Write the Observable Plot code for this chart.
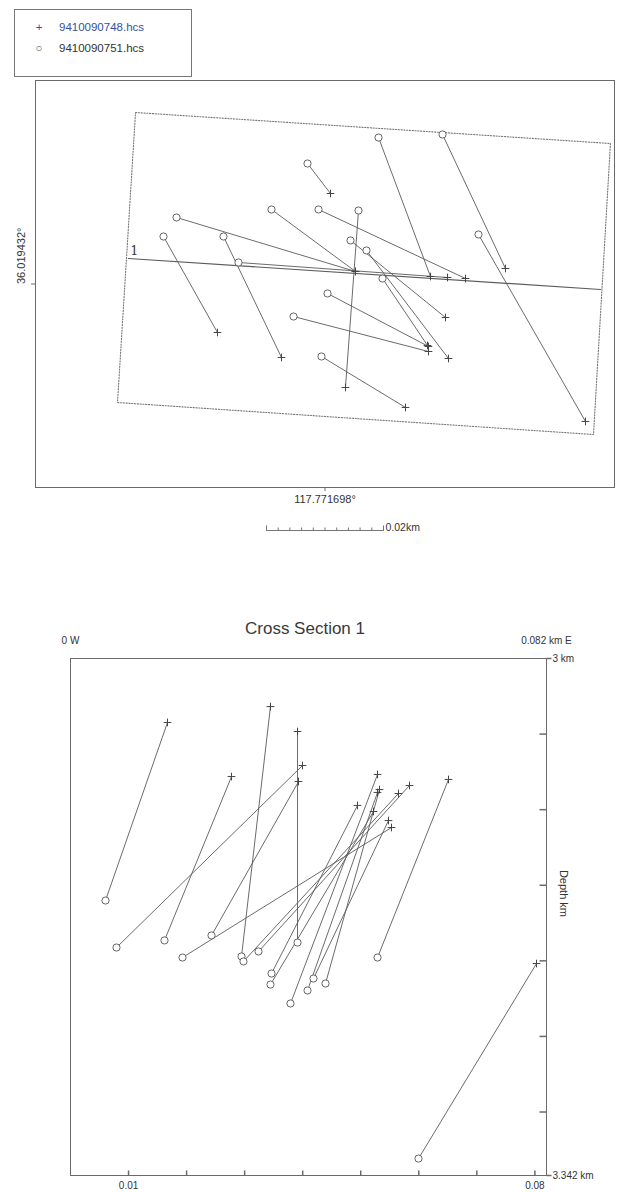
<!DOCTYPE html>
<html>
<head>
<meta charset="utf-8">
<script src="https://cdn.jsdelivr.net/npm/d3@7"></script>
<script src="https://cdn.jsdelivr.net/npm/@observablehq/plot@0.6"></script>
<style>
  body { margin: 0; background: #fff; }
  #wrap { position: relative; width: 618px; height: 1192px; overflow: hidden;
          font-family: "Liberation Sans", Arial, Helvetica, sans-serif; }
  #wrap svg { position: absolute; left: 0; overflow: visible; }
  #legend { position: absolute; left: 14px; top: 9px; width: 176px; height: 66px;
            border: 1px solid #777; background: #fff; z-index: 3; font-size: 11.5px; }
  .lg { position: absolute; left: 0; white-space: nowrap; }
  .lg .m { position: absolute; left: 18px; width: 12px; text-align: center; }
  .lg .t { position: absolute; left: 44px; }
  #title { position: absolute; left: 0; top: 619px; width: 610px; text-align: center;
           font-size: 17px; color: #3a3a3a; }
</style>
</head>
<body>
<div id="wrap">
  <div id="legend"></div>
  <div id="title"></div>
</div>
<script>
// ---------------- data ----------------
const seriesNames = ["9410090748.hcs", "9410090751.hcs"];   // + , o
const mapLonLabel = "117.771698°";
const mapLatLabel = "36.019432°";
const scaleLabel = "0.02km";
const sectionTitle = "Cross Section 1";
const profileName = "1";

// Map view: metres east / north of the map centre
const mapE751 = [-2.99, 9.15, 20.09, -25.38, -9.15, -1.11, 5.73, -27.61, -17.35, 26.24, 4.36, 7.09, -14.79, 9.83, 0.43, -5.38, -0.60];
const mapN751 = [20.60, 25.04, 25.56, 11.37, 12.74, 12.74, 12.56, 8.12, 8.12, 8.46, 7.44, 5.73, 3.68, 0.94, -1.62, -5.56, -12.39];
const mapE748 = [0.94, 18.03, 30.85, 5.21, 5.21, 24.02, 3.50, -18.38, -7.44, 44.53, 20.60, 21.11, 20.94, 17.52, 17.69, 17.69, 13.76];
const mapN748 = [15.47, 1.28, 2.65, 2.14, 2.14, 0.94, -17.69, -8.29, -12.56, -23.50, -5.73, -12.74, 1.11, -10.51, -10.68, -11.54, -21.11];

// Section box (dotted) corners and profile line, metres
const boxE = [-32.39, 48.80, 45.90, -35.47, -32.39];
const boxN = [29.32, 24.02, -25.73, -20.26, 29.32];
const profileE = [-33.59, 47.09];
const profileN = [4.36, -0.94];

// Cross section: distance along profile (km) and depth (km)
const secDist751 = [0.00603, 0.00792, 0.01619, 0.02429, 0.02946, 0.01929, 0.03911, 0.03239, 0.02980, 0.05289, 0.05995, 0.03463, 0.03445, 0.03790, 0.04083, 0.04186, 0.04393];
const secDepth751 = [3.1601, 3.1912, 3.1865, 3.1832, 3.1971, 3.1978, 3.1879, 3.1938, 3.2004, 3.1978, 3.3308, 3.2084, 3.2157, 3.2282, 3.2196, 3.2117, 3.2150];
const secDist748 = [0.01671, 0.03997, 0.02774, 0.03928, 0.03445, 0.05530, 0.03911, 0.05840, 0.05650, 0.06512, 0.08028, 0.04944, 0.05220, 0.05289, 0.05289, 0.05478, 0.05323];
const secDepth748 = [3.0423, 3.0708, 3.0781, 3.0814, 3.0318, 3.1118, 3.0483, 3.0840, 3.0893, 3.0800, 3.2018, 3.0972, 3.1012, 3.0767, 3.0886, 3.1072, 3.0867];

const secDomainX = [0, 0.082];
const secDomainY = [3, 3.342];
const secXTicks = [0.01, 0.02, 0.03, 0.04, 0.05, 0.06, 0.07, 0.08];
const secXTickLabels = [0.01, 0.08];
const secYTicks = [3.05, 3.10, 3.15, 3.20, 3.25, 3.30];
const secLeftLabel = "0 W";
const secRightLabel = "0.082 km E";
const secTopDepthLabel = "3 km";
const secBottomDepthLabel = "3.342 km";
const secAxisLabel = "Depth km";

// scale bar: 0.02 km = 20 m, 10 divisions
const scaleBarTicks = [-10, -8, -6, -4, -2, 0, 2, 4, 6, 8, 10];

// ---------------- layout / style ----------------
const LINE = "#5a5a5a";
const FRAME = "#6a6a6a";
const FONT = "Liberation Sans, Arial, Helvetica, sans-serif";
const mapDomainX = [-49.49, 49.49];
const mapDomainY = [-34.79, 34.79];
const scaleBarY = -42.14;

// custom stroke symbols for axis ticks
const tickUp = {draw(c, s) { const l = Math.sqrt(s / Math.PI); c.moveTo(0, 0); c.lineTo(0, -l); }};
const tickLeft = {draw(c, s) { const l = Math.sqrt(s / Math.PI); c.moveTo(0, 0); c.lineTo(-l, 0); }};
const tickRight = {draw(c, s) { const l = Math.sqrt(s / Math.PI); c.moveTo(0, 0); c.lineTo(l, 0); }};

// ---------------- tables ----------------
const mapPairs = mapE751.map((e, i) => ({x1: e, y1: mapN751[i], x2: mapE748[i], y2: mapN748[i]}));
const boxPts = boxE.map((e, i) => ({x: e, y: boxN[i]}));
const profilePts = profileE.map((e, i) => ({x: e, y: profileN[i]}));
const secPairs = secDist751.map((d, i) => ({x1: d, y1: secDepth751[i], x2: secDist748[i], y2: secDepth748[i]}));

// ---------------- legend & title ----------------
const legend = document.getElementById("legend");
const legendMarks = ["+", "○"];
const legendColors = ["#3550a0", "#333"];
seriesNames.forEach((name, i) => {
  const row = document.createElement("div");
  row.className = "lg";
  row.style.top = (11 + i * 21) + "px";
  row.innerHTML = `<span class="m" style="color:${i === 0 ? "#3550a0" : "#555"}">${legendMarks[i]}</span><span class="t" style="color:${legendColors[i]}">${name}</span>`;
  legend.appendChild(row);
});
document.getElementById("title").textContent = sectionTitle;

// ---------------- map plot ----------------
const mapPlot = Plot.plot({
  width: 618, height: 540,
  marginLeft: 35, marginRight: 4, marginTop: 80, marginBottom: 53,
  x: {domain: mapDomainX},
  y: {domain: mapDomainY},
  style: {fontFamily: FONT, fontSize: "11px", color: "#333", background: "transparent"},
  marks: [
    Plot.frame({stroke: FRAME, strokeWidth: 1}),
    Plot.axisX({ticks: [0], tickSize: 4, tickPadding: 4, tickFormat: () => mapLonLabel, label: null, stroke: FRAME}),
    Plot.axisY({ticks: [0], tickSize: 4, tickFormat: () => "", label: null, stroke: FRAME}),
    Plot.text([mapLatLabel], {text: d => d, frameAnchor: "left", dx: -14, rotate: -90, fontSize: 11, fill: "#333"}),
    Plot.line(boxPts, {x: "x", y: "y", stroke: "#777", strokeWidth: 1.1, strokeDasharray: "1.2,1.6"}),
    Plot.line(profilePts, {x: "x", y: "y", stroke: "#5c5c5c", strokeWidth: 1.2}),
    Plot.text([profilePts[0]], {x: "x", y: "y", text: () => profileName, dx: 2, dy: -7, textAnchor: "start", fontFamily: "DejaVu Serif, serif", fontSize: 12, fill: "#333"}),
    Plot.link(mapPairs, {x1: "x1", y1: "y1", x2: "x2", y2: "y2", stroke: LINE, strokeWidth: 0.9}),
    Plot.dot(mapPairs, {x: "x2", y: "y2", symbol: "plus", r: 2.6, stroke: "#444", strokeWidth: 1, fill: "none"}),
    Plot.dot(mapPairs, {x: "x1", y: "y1", symbol: "circle", r: 3.6, stroke: "#555", strokeWidth: 0.9, fill: "white"}),
    // scale bar
    Plot.line([scaleBarTicks[0], scaleBarTicks[scaleBarTicks.length - 1]], {x: d => d, y: scaleBarY, stroke: "#666", strokeWidth: 0.9}),
    Plot.dot(scaleBarTicks, {x: d => d, y: scaleBarY, r: (d, i) => (i === 0 || i === scaleBarTicks.length - 1) ? 6.2 : 2.2, symbol: tickUp, stroke: "#666", strokeWidth: 0.9, fill: "none"}),
    Plot.text([scaleLabel], {x: scaleBarTicks[scaleBarTicks.length - 1], y: scaleBarY, text: d => d, dx: 2, dy: -3, textAnchor: "start", fontSize: 10.5, fill: "#333"})
  ]
});
mapPlot.style.top = "0px";
document.getElementById("wrap").appendChild(mapPlot);

// ---------------- cross-section plot ----------------
const secPlot = Plot.plot({
  width: 618, height: 592,
  marginLeft: 70, marginRight: 72, marginTop: 58, marginBottom: 17,
  x: {domain: secDomainX, axis: null},
  y: {domain: secDomainY, reverse: true, axis: null},
  style: {fontFamily: FONT, fontSize: "10px", color: "#333", background: "transparent"},
  marks: [
    Plot.frame({stroke: FRAME, strokeWidth: 1}),
    Plot.dot(secXTicks, {x: d => d, y: secDomainY[1], r: 5, symbol: tickUp, stroke: FRAME, fill: "none"}),
    Plot.dot(secYTicks, {x: secDomainX[1], y: d => d, r: 7, symbol: tickLeft, stroke: FRAME, fill: "none"}),
    Plot.dot(secDomainY, {x: secDomainX[1], y: d => d, r: 5, symbol: tickRight, stroke: FRAME, fill: "none"}),
    Plot.text(secXTickLabels, {x: d => d, y: secDomainY[1], text: d => String(d), dy: 10, fontSize: 10, fill: "#333"}),
    Plot.text([secLeftLabel], {x: secDomainX[0], y: secDomainY[0], text: d => d, dy: -18, fontSize: 10, fill: "#333"}),
    Plot.text([secRightLabel], {x: secDomainX[1], y: secDomainY[0], text: d => d, dy: -18, fontSize: 10, fill: "#333"}),
    Plot.text([secTopDepthLabel], {x: secDomainX[1], y: secDomainY[0], text: d => d, dx: 6, textAnchor: "start", fontSize: 10, fill: "#333"}),
    Plot.text([secBottomDepthLabel], {x: secDomainX[1], y: secDomainY[1], text: d => d, dx: 6, textAnchor: "start", fontSize: 10, fill: "#333"}),
    Plot.text([secAxisLabel], {text: d => d, frameAnchor: "right", dx: 17, rotate: 90, fontSize: 11, fill: "#333"}),
    Plot.link(secPairs, {x1: "x1", y1: "y1", x2: "x2", y2: "y2", stroke: LINE, strokeWidth: 0.9}),
    Plot.dot(secPairs, {x: "x2", y: "y2", symbol: "plus", r: 2.6, stroke: "#444", strokeWidth: 1, fill: "none"}),
    Plot.dot(secPairs, {x: "x1", y: "y1", symbol: "circle", r: 3.6, stroke: "#555", strokeWidth: 0.9, fill: "white"})
  ]
});
secPlot.style.top = "600px";
document.getElementById("wrap").appendChild(secPlot);
</script>
</body>
</html>
